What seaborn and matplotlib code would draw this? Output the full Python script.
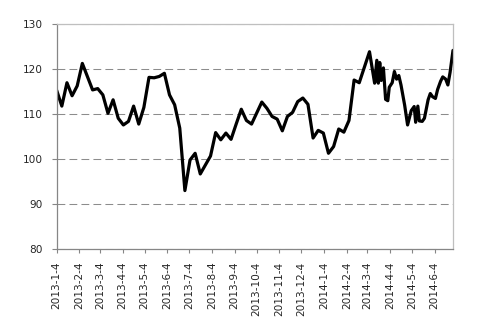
import matplotlib
matplotlib.use("Agg")
import matplotlib.pyplot as plt
import seaborn as sns
import pandas as pd
import numpy as np

dates = [
    "2013-01-04", "2013-01-11", "2013-01-18", "2013-01-25", "2013-02-01", "2013-02-08",
    "2013-02-22", "2013-03-01", "2013-03-08", "2013-03-15", "2013-03-22", "2013-03-29",
    "2013-04-05", "2013-04-12", "2013-04-19", "2013-04-26", "2013-05-03", "2013-05-10",
    "2013-05-17", "2013-05-24", "2013-05-31", "2013-06-07", "2013-06-14", "2013-06-21",
    "2013-06-28", "2013-07-05", "2013-07-12", "2013-07-19", "2013-07-26", "2013-08-02",
    "2013-08-09", "2013-08-16", "2013-08-23", "2013-08-30", "2013-09-06", "2013-09-13",
    "2013-09-20", "2013-09-27", "2013-10-11", "2013-10-18", "2013-10-25", "2013-11-01",
    "2013-11-08", "2013-11-15", "2013-11-22", "2013-11-29", "2013-12-06", "2013-12-13",
    "2013-12-20", "2013-12-27", "2014-01-03", "2014-01-10", "2014-01-17", "2014-01-24",
    "2014-01-31", "2014-02-07", "2014-02-14", "2014-02-21", "2014-03-07",
    "2014-03-14", "2014-03-17", "2014-03-19", "2014-03-21", "2014-03-23", "2014-03-26",
    "2014-03-29", "2014-04-01", "2014-04-03", "2014-04-07", "2014-04-10", "2014-04-13",
    "2014-04-16", "2014-04-19", "2014-04-24", "2014-04-28", "2014-05-03", "2014-05-07",
    "2014-05-09", "2014-05-12", "2014-05-14", "2014-05-18", "2014-05-21", "2014-05-26",
    "2014-05-29", "2014-06-01", "2014-06-05", "2014-06-08", "2014-06-12", "2014-06-15",
    "2014-06-19", "2014-06-22", "2014-06-25", "2014-06-29",
]
values = [
    115.3, 111.8, 117.0, 114.1, 116.3, 121.3,
    115.4, 115.7, 114.3, 110.2, 113.2, 109.1,
    107.6, 108.4, 111.8, 107.8, 111.5, 118.2,
    118.1, 118.4, 119.1, 114.3, 112.1, 106.9,
    93.0, 99.8, 101.3, 96.7, 98.7, 100.7,
    105.9, 104.3, 105.8, 104.4, 107.8, 111.1,
    108.6, 107.8, 112.7, 111.3, 109.5, 108.9,
    106.3, 109.5, 110.4, 112.8, 113.6, 112.2,
    104.7, 106.4, 105.8, 101.3, 102.8, 106.7,
    106.0, 108.6, 117.6, 117.0, 123.9,
    116.9, 122.0, 116.9, 121.5, 117.5, 120.3,
    113.3, 113.0, 116.0, 117.0, 119.5, 117.8,
    118.6, 116.5, 112.0, 107.6, 110.8, 111.7,
    108.2, 111.8, 108.5, 108.4, 109.1, 113.2,
    114.6, 113.9, 113.5, 115.5, 117.3, 118.3,
    117.8, 116.5, 119.3, 124.2,
]
tick_dates = [
    "2013-01-04", "2013-02-04", "2013-03-04", "2013-04-04", "2013-05-04", "2013-06-04",
    "2013-07-04", "2013-08-04", "2013-09-04", "2013-10-04", "2013-11-04", "2013-12-04",
    "2014-01-04", "2014-02-04", "2014-03-04", "2014-04-04", "2014-05-04", "2014-06-04",
]
y_ticks = [80, 90, 100, 110, 120, 130]

df = pd.DataFrame({"date": pd.to_datetime(dates), "value": values})

sns.set_style("white")
plt.rcParams["font.family"] = ["DejaVu Sans"]

fig = plt.figure(figsize=(4.9, 3.34), dpi=100)
ax = fig.add_axes([0.1157, 0.2545, 0.9245 - 0.1157, 0.9272 - 0.2545])

sns.lineplot(data=df, x="date", y="value", color="black", linewidth=2.3, ax=ax)

td = pd.to_datetime(tick_dates)
ax.set_xlim(df["date"].iloc[0], df["date"].iloc[-1])
ax.set_xticks(td)
ax.set_xticklabels([f"{d.year}-{d.month}-{d.day}" for d in td], rotation=90, fontsize=7.6)
ax.set_ylim(80, 130)
ax.set_yticks(y_ticks)
ax.set_yticklabels([str(v) for v in y_ticks], fontsize=7.6)
ax.set_xlabel("")
ax.set_ylabel("")

ax.set_axisbelow(True)
ax.yaxis.grid(True, color="#8c8c8c", linestyle=(0, (7.5, 4)), linewidth=0.75)
ax.xaxis.grid(False)

for s in ["left", "bottom"]:
    ax.spines[s].set_color("#868686")
    ax.spines[s].set_linewidth(0.9)
for s in ["top", "right"]:
    ax.spines[s].set_color("#bfbfbf")
    ax.spines[s].set_linewidth(0.9)

ax.tick_params(axis="y", which="major", direction="out", length=3.6, width=0.8,
               color="#868686", pad=6.5, left=True)
ax.tick_params(axis="x", which="major", direction="out", length=3.0, width=0.8,
               color="#868686", pad=6.0, bottom=True)

fig.savefig("out.png", dpi=100)
